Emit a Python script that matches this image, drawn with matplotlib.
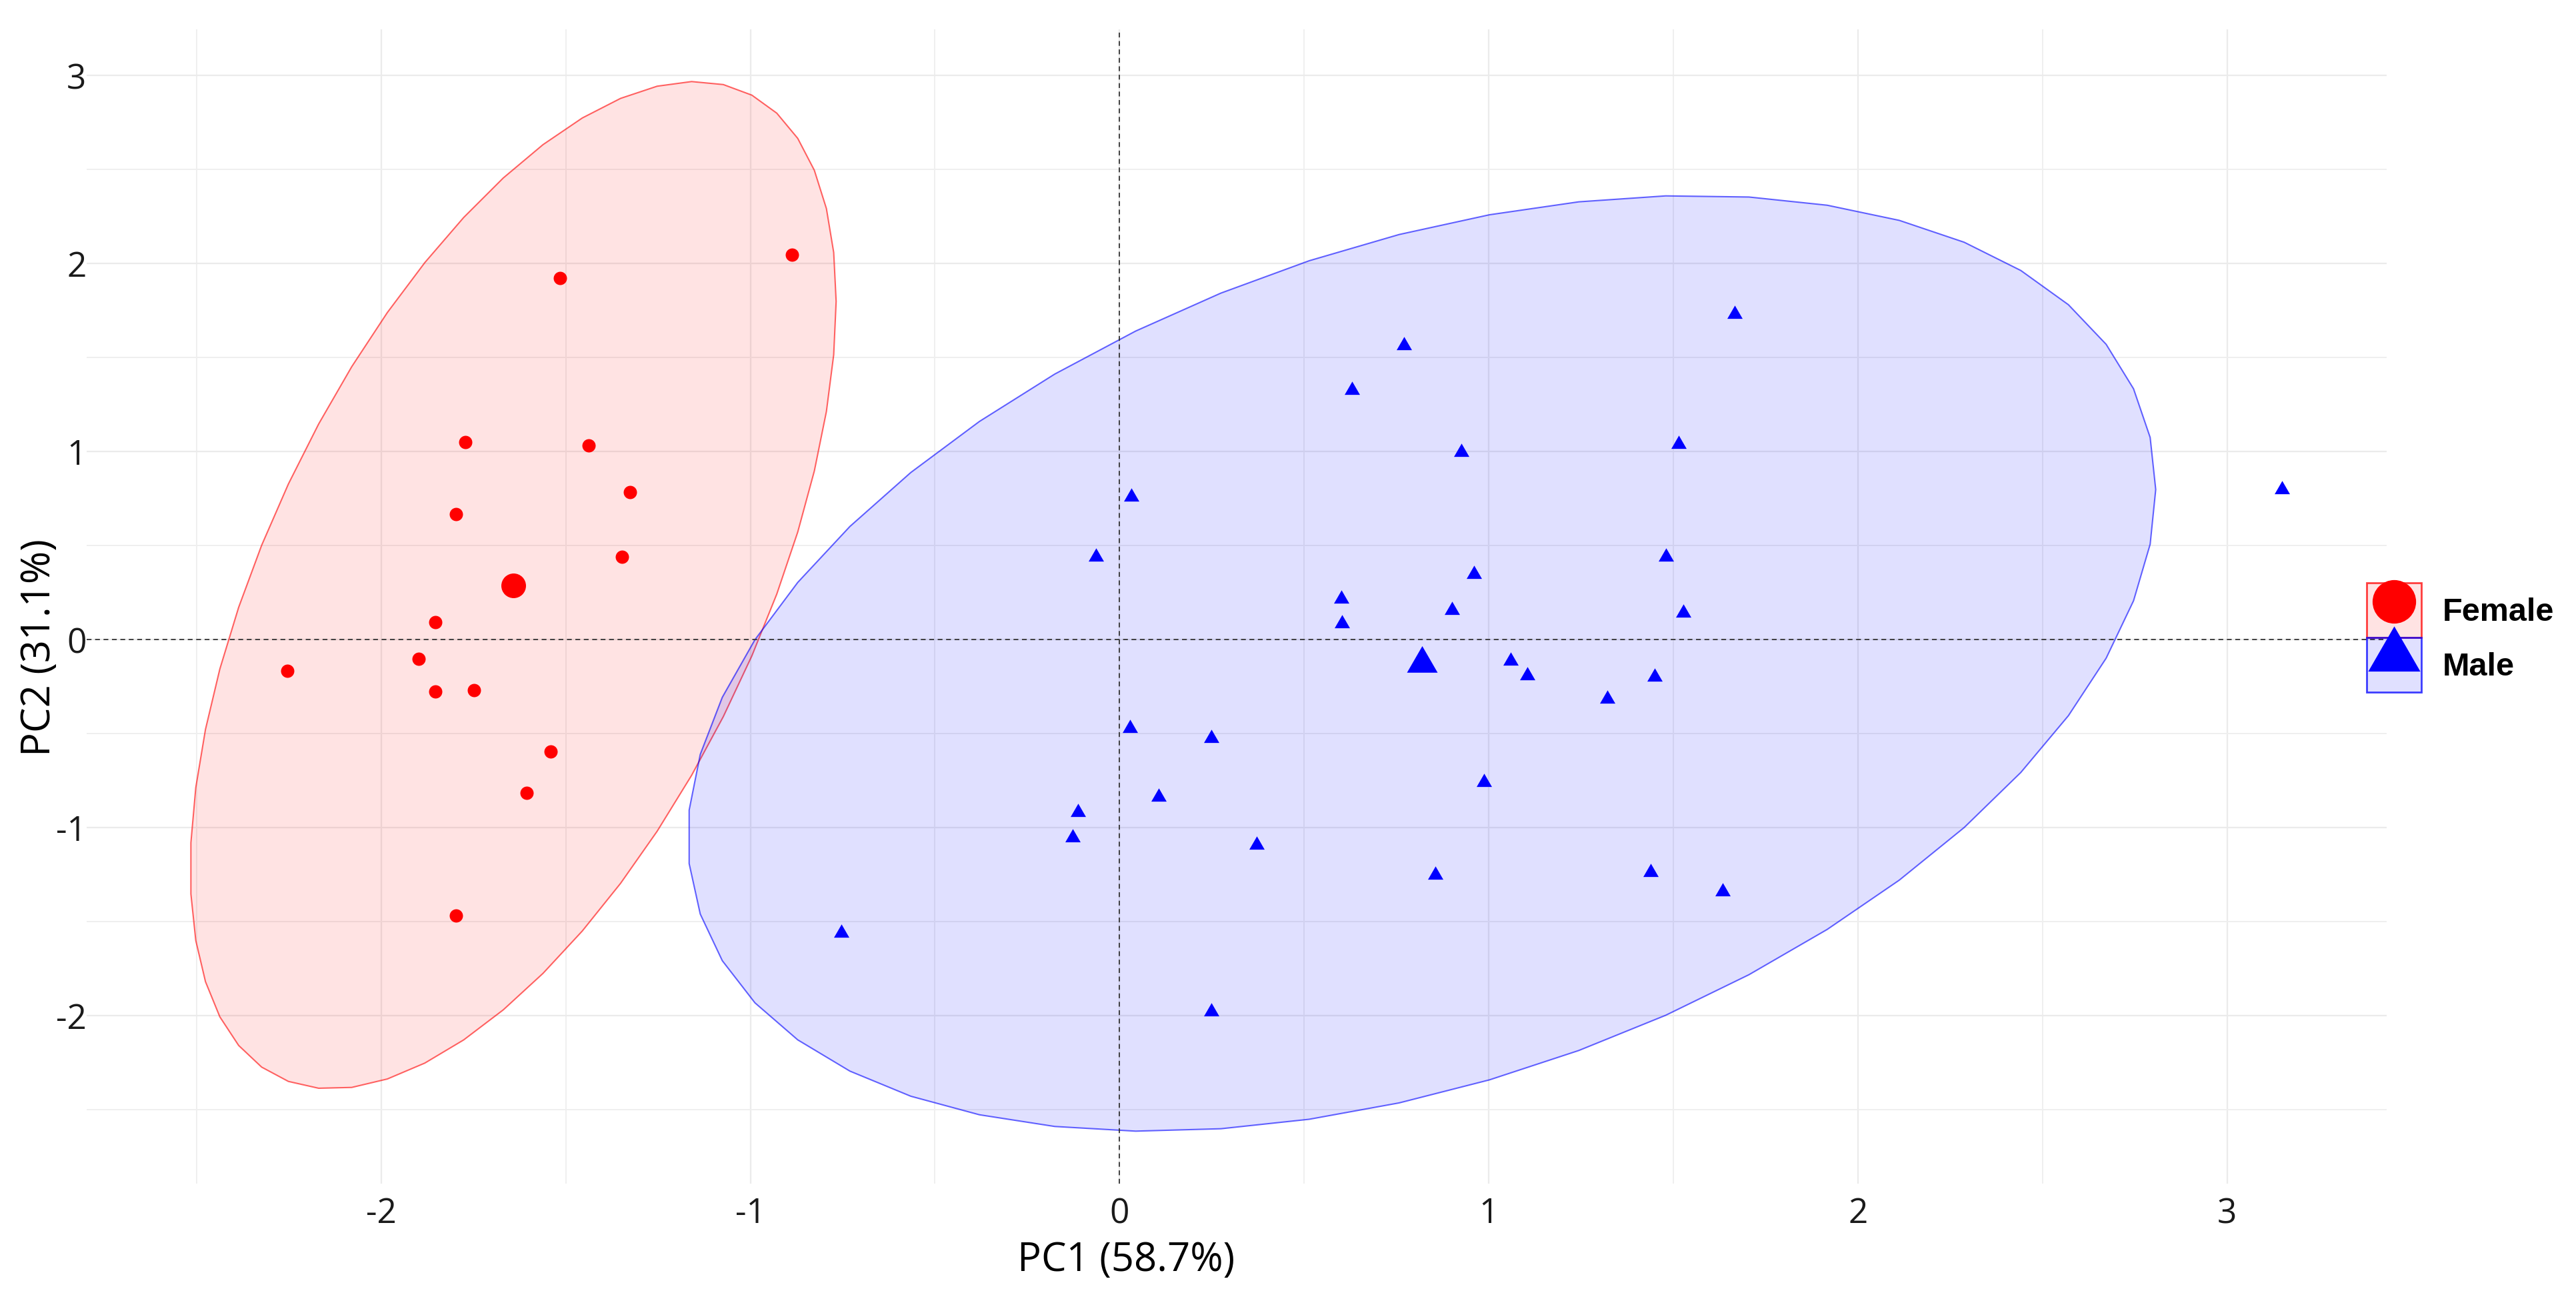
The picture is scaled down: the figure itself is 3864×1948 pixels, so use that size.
import numpy as np
import matplotlib
matplotlib.use("Agg")
import matplotlib.pyplot as plt
from matplotlib.lines import Line2D
from matplotlib.patches import Patch, Polygon
from matplotlib.path import Path

plt.rcParams["axes.unicode_minus"] = False

# ---------------------------------------------------------------------------
# data (PCA scores)
# ---------------------------------------------------------------------------
female_pc1 = [-0.887, -1.516, -1.772, -1.438, -1.326, -1.798, -1.347, -1.853,
              -2.254, -1.899, -1.853, -1.748, -1.540, -1.606, -1.798]
female_pc2 = [2.044, 1.922, 1.049, 1.029, 0.784, 0.667, 0.438, 0.090,
              -0.168, -0.104, -0.279, -0.272, -0.597, -0.818, -1.470]

male_pc1 = [0.770, 0.629, 0.925, 1.515, 1.666, 0.032, -0.063, 1.481, 0.961,
            0.600, 0.900, 0.603, 1.527, 1.060, 1.104, 1.450, 1.321, 0.028,
            0.249, 0.988, 0.106, -0.113, -0.127, 0.372, 0.856, 1.439, 1.633,
            0.249, 3.149, -0.753]
male_pc2 = [1.564, 1.326, 0.994, 1.037, 1.729, 0.759, 0.440, 0.440, 0.345,
            0.216, 0.155, 0.085, 0.139, -0.114, -0.193, -0.200, -0.318, -0.472,
            -0.526, -0.761, -0.838, -0.919, -1.053, -1.094, -1.252, -1.239,
            -1.343, -1.980, 0.795, -1.563]

groups = ["Female", "Male"]
group_colors = ["#FF0000", "#0000FF"]
fill_alpha = [0.11, 0.12]
# qf(0.95, 2, n - 1) as used by ggplot's stat_ellipse(type = "norm")
f_quantiles = [3.738892, 3.327654]

x_label = "PC1 (58.7%)"
y_label = "PC2 (31.1%)"
ticks = [-2, -1, 0, 1, 2, 3]
minor_ticks = [-2.5, -1.5, -0.5, 0.5, 1.5, 2.5]

# equilateral triangle like R's pch 17
tri = Path([(0, 1), (-0.866, -0.5), (0.866, -0.5), (0, 1)],
           [Path.MOVETO, Path.LINETO, Path.LINETO, Path.CLOSEPOLY])


def norm_ellipse(x, y, fq, segments=51):
    pts = np.column_stack([x, y])
    center = pts.mean(axis=0)
    cov = np.cov(pts, rowvar=False)
    chol = np.linalg.cholesky(cov).T
    radius = np.sqrt(2 * fq)
    t = np.linspace(0, 2 * np.pi, segments + 1)
    circle = np.column_stack([np.cos(t), np.sin(t)])
    return center + radius * circle @ chol, center


fig = plt.figure(figsize=(38.64, 19.49), dpi=100)
ax = fig.add_axes([129.5 / 3864, 173 / 1949, (3580 - 129.5) / 3864, (1776 - 44.6) / 1949])

xs = [female_pc1, male_pc1]
ys = [female_pc2, male_pc2]
markers = ["o", tri]
pt_size = [207, 365]
ctr_size = [709, 1460]

all_x, all_y = [], []
for i, g in enumerate(groups):
    ell, ctr = norm_ellipse(xs[i], ys[i], f_quantiles[i])
    col = matplotlib.colors.to_rgb(group_colors[i])
    ax.add_patch(Polygon(ell, closed=True, facecolor=col + (fill_alpha[i],),
                         edgecolor=col + (0.6,), linewidth=1.5, zorder=1.5))
    ax.scatter(xs[i], ys[i], s=pt_size[i], marker=markers[i], color=group_colors[i],
               linewidths=0, zorder=4)
    ax.scatter([ctr[0]], [ctr[1]], s=ctr_size[i], marker=markers[i],
               color=group_colors[i], linewidths=0, zorder=4)
    all_x += list(ell[:, 0]) + list(xs[i])
    all_y += list(ell[:, 1]) + list(ys[i])

ax.axhline(0, color="#333333", lw=1.3, ls=(0, (4, 3)), zorder=3)
ax.axvline(0, color="#333333", lw=1.3, ls=(0, (4, 3)), zorder=3)

ax.set_xticks(ticks)
ax.set_yticks(ticks)
ax.set_xticks(minor_ticks, minor=True)
ax.set_yticks(minor_ticks, minor=True)

# ggplot-like 5% expansion (set after the ticks so they don't widen the view)
xr = max(all_x) - min(all_x)
yr = max(all_y) - min(all_y)
ax.set_xlim(min(all_x) - 0.05 * xr, max(all_x) + 0.05 * xr)
ax.set_ylim(min(all_y) - 0.05 * yr, max(all_y) + 0.05 * yr)

ax.grid(which="major", color="#EBEBEB", lw=1.6)
ax.grid(which="minor", color="#EFEFEF", lw=1.4)
ax.set_axisbelow(True)
for s in ax.spines.values():
    s.set_visible(False)

ax.tick_params(axis="both", which="both", length=0, labelsize=37,
               labelcolor="#1A1A1A")
ax.tick_params(axis="x", pad=14)
ax.tick_params(axis="y", pad=0)
for lab in ax.get_xticklabels() + ax.get_yticklabels():
    lab.set_family("Open Sans")

ax.set_xlabel(x_label, fontsize=43, family="Open Sans", color="black")
ax.set_ylabel(y_label, fontsize=43, family="Open Sans", color="black")
ax.xaxis.set_label_coords(1689 / 3864, 1 - 1860 / 1949, transform=fig.transFigure)
ax.yaxis.set_label_coords(89 / 3864, 1 - 971 / 1949, transform=fig.transFigure)

handles = []
leg_ms = [47, 65]
for i, g in enumerate(groups):
    col = matplotlib.colors.to_rgb(group_colors[i])
    box = Patch(facecolor=col + (fill_alpha[i],), edgecolor=col + (0.75,), linewidth=2)
    mk = Line2D([], [], ls="", marker=markers[i], ms=leg_ms[i], color=group_colors[i],
                markeredgewidth=0)
    handles.append((box, mk))

fig.legend(handles, groups, loc="upper left",
           bbox_to_anchor=(3550 / 3864, 1 - 875 / 1949), frameon=False,
           borderpad=0, borderaxespad=0, labelspacing=0.0, handlelength=1.69,
           handleheight=2.22, handletextpad=0.65,
           prop={"family": "Liberation Sans", "weight": "bold", "size": 35})

fig.savefig("out.png", dpi=100, facecolor="white")
